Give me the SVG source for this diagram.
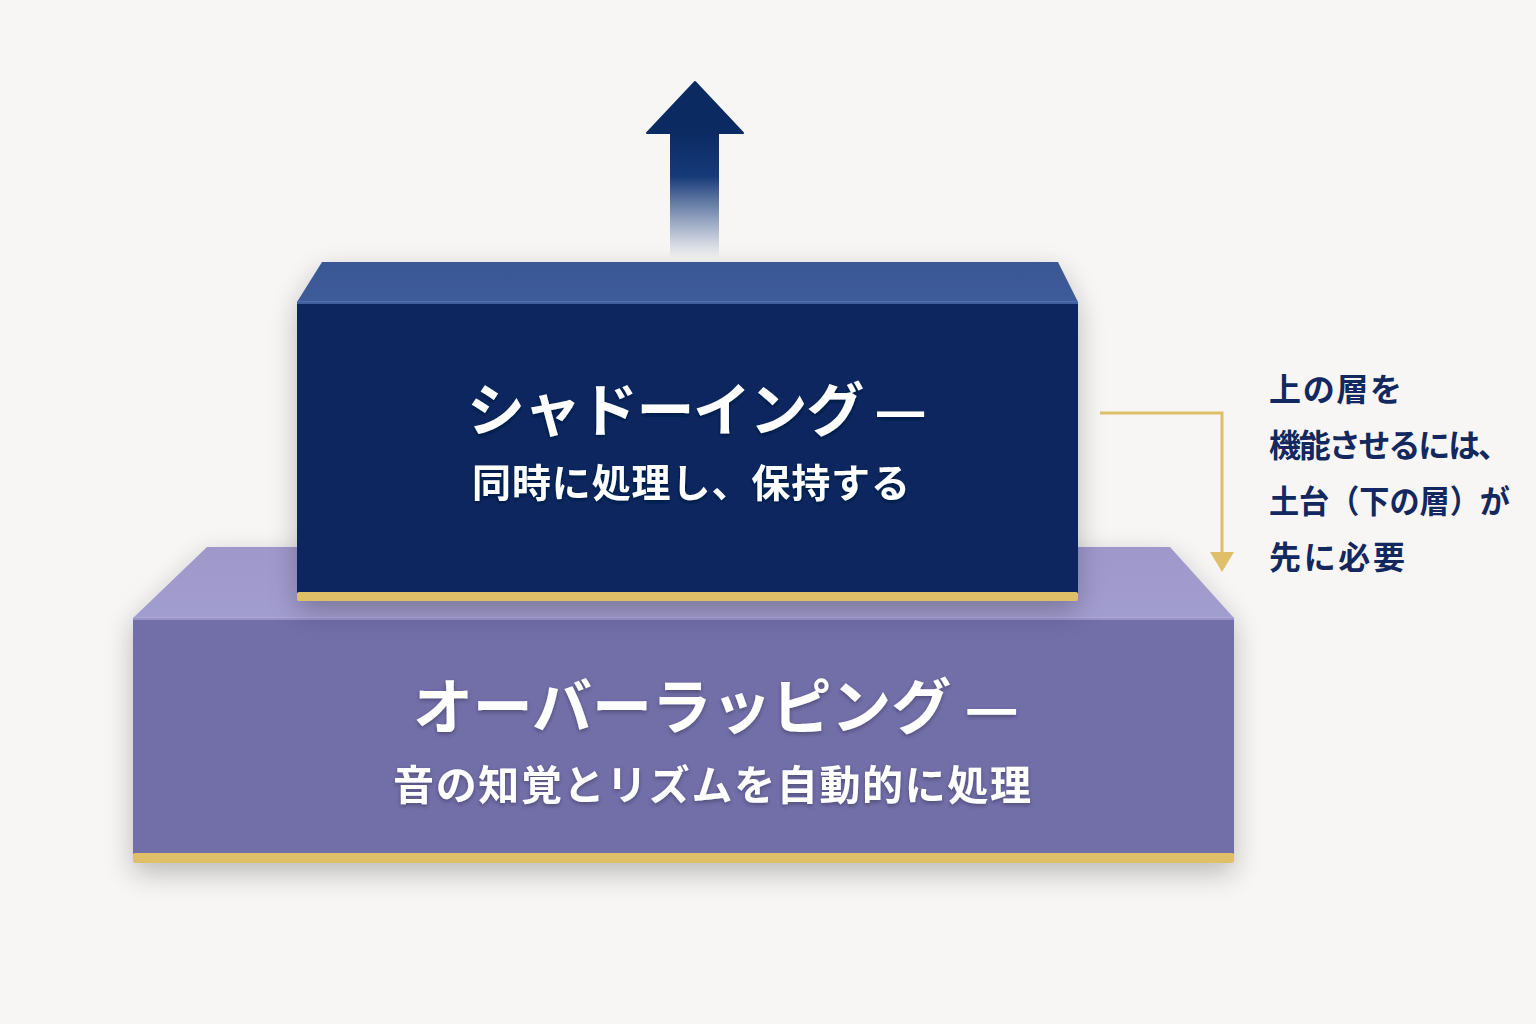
<svg xmlns="http://www.w3.org/2000/svg" width="1536" height="1024" viewBox="0 0 1536 1024">
<defs>
<style>
.ttl{font-family:"Noto Sans CJK JP","Noto Sans",sans-serif;font-weight:700;fill:#ffffff;text-anchor:middle}
.sub{font-family:"Noto Sans CJK JP","Noto Sans",sans-serif;font-weight:700;fill:#ffffff;text-anchor:middle}
.note{font-family:"Noto Sans CJK JP","Noto Sans",sans-serif;font-weight:700;fill:#13285e;font-size:32px}
.gold{fill:#dfbf68}
</style>
<linearGradient id="shaft" x1="0" y1="0" x2="0" y2="1">
<stop offset="0" stop-color="#0b2a62"/>
<stop offset="0.35" stop-color="#163a78"/>
<stop offset="1" stop-color="#2a4a8a" stop-opacity="0"/>
</linearGradient>
<linearGradient id="topUp" x1="0" y1="0" x2="0" y2="1">
<stop offset="0" stop-color="#3a5895"/>
<stop offset="1" stop-color="#3e5b99"/>
</linearGradient>
<linearGradient id="topLow" x1="0" y1="0" x2="0" y2="1">
<stop offset="0" stop-color="#9f98cb"/>
<stop offset="1" stop-color="#a29dcf"/>
</linearGradient>
<filter id="shadow" x="-10%" y="-10%" width="120%" height="130%">
<feGaussianBlur in="SourceAlpha" stdDeviation="14"/>
<feOffset dy="10"/>
<feComponentTransfer><feFuncA type="linear" slope="0.25"/></feComponentTransfer>
<feMerge><feMergeNode/><feMergeNode in="SourceGraphic"/></feMerge>
</filter>
<filter id="tshadow" x="-5%" y="-20%" width="110%" height="140%">
<feGaussianBlur in="SourceAlpha" stdDeviation="2"/>
<feOffset dy="2"/>
<feComponentTransfer><feFuncA type="linear" slope="0.3"/></feComponentTransfer>
<feMerge><feMergeNode/><feMergeNode in="SourceGraphic"/></feMerge>
</filter>
<marker id="goldHead" viewBox="0 0 20 24" refX="2" refY="12" markerWidth="20" markerHeight="24" markerUnits="userSpaceOnUse" orient="auto">
<path d="M0 0 L20 12 L0 24 Z" fill="#dfbf68"/>
</marker>
</defs>
<rect width="1536" height="1024" fill="#f7f6f5"/>

<g id="arrow-up">
<rect x="670" y="132" width="49" height="126" fill="url(#shaft)"/>
<path d="M695 82 L743 133 L647 133 Z" fill="#0b2a62" stroke="#0b2a62" stroke-width="2" stroke-linejoin="round"/>
</g>

<g id="lower-block" filter="url(#shadow)">
<path d="M207 547 L1170 547 L1234 618 L133 618 Z" fill="url(#topLow)"/>
<rect x="133" y="618" width="1101" height="236" fill="#716ea8"/>
<rect x="133" y="617" width="1101" height="3" fill="#b3aedb" opacity="0.6"/>
<rect x="133" y="853" width="1101" height="10" rx="2" class="gold"/>
<text class="ttl" x="716" y="729" font-size="60" textLength="606" lengthAdjust="spacing" filter="url(#tshadow)">オーバーラッピング —</text>
<text class="sub" x="712" y="800" font-size="41" textLength="638" lengthAdjust="spacing" filter="url(#tshadow)">音の知覚とリズムを自動的に処理</text>
</g>

<g id="upper-block" filter="url(#shadow)">
<path d="M322 262 L1058 262 L1078 302 L297 302 Z" fill="url(#topUp)"/>
<rect x="297" y="302" width="781" height="291" fill="#07265e"/>
<rect x="297" y="301" width="781" height="3" fill="#5a78b8" opacity="0.7"/>
<rect x="297" y="592" width="781" height="9" rx="2" class="gold"/>
<text class="ttl" x="697" y="431" font-size="58" textLength="460" lengthAdjust="spacing" filter="url(#tshadow)">シャドーイング —</text>
<text class="sub" x="691" y="497" font-size="39" textLength="438" lengthAdjust="spacing" filter="url(#tshadow)">同時に処理し、保持する</text>
</g>

<g id="connectors">
<path d="M1100 413 L1222 413 L1222 554" fill="none" stroke="#dfbf68" stroke-width="3" marker-end="url(#goldHead)"/>
</g>

<g id="note">
<text class="note" x="1269" y="401" textLength="133" lengthAdjust="spacing">上の層を</text>
<text class="note" x="1269" y="457" textLength="241" lengthAdjust="spacing">機能させるには、</text>
<text class="note" x="1269" y="513" textLength="241" lengthAdjust="spacingAndGlyphs">土台（下の層）が</text>
<text class="note" x="1269" y="569" textLength="136" lengthAdjust="spacing">先に必要</text>
</g>
</svg>
